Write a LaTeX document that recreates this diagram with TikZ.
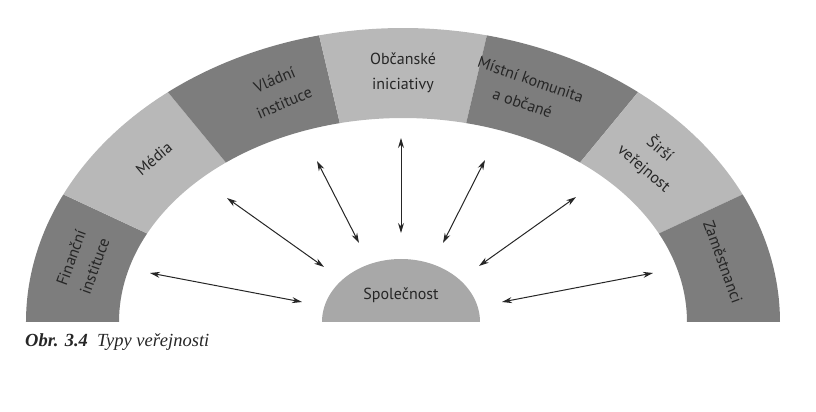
\documentclass[tikz,border=0pt]{standalone}
\usepackage{fontspec}
\setmainfont{Liberation Serif}
\newfontfamily\segfont{PT Sans}
\usetikzlibrary{arrows.meta}
\colorlet{segdark}{black!51}
\colorlet{seglight}{black!28}
\colorlet{spolfill}{black!34}
\colorlet{inktext}{black!85}

\tikzset{
  darkseg/.style={fill=segdark},
  lightseg/.style={fill=seglight},
  seglabel/.style={align=center, text=inktext, inner sep=1pt, font=\segfont\fontsize{16}{25}\selectfont},
  link/.style={<->, draw=inktext, line width=1pt}
}

\begin{document}
\begin{tikzpicture}[x=1pt, y=1pt, >={Stealth[length=10pt,width=6pt]}]
    \useasboundingbox (-403,-90) rectangle (413,322);

    % the seven segments of the arch
    \foreach \i/\sty/\t/\rot/\lab in {
        0/darkseg/166/70/{Finanční\\instituce},
        1/lightseg/139/40/{Média},
        2/darkseg/112/23/{Vládní\\instituce},
        3/lightseg/90/0/{Občanské\\iniciativy},
        4/darkseg/68/-19/{Místní komunita\\a občané},
        5/lightseg/41/-40/{Širší\\veřejnost},
        6/darkseg/14/-70/{Zaměstnanci}}
    {
      \pgfmathsetmacro\a{180-\i*180/7}
      \pgfmathsetmacro\b{\a-180/7}
      \fill[\sty] (\a:377 and 294) arc[start angle=\a, end angle=\b, x radius=377, y radius=294]
        -- (\b:284 and 204) arc[start angle=\b, end angle=\a, x radius=284, y radius=204] -- cycle;
      \node[seglabel, rotate=\rot] (seg\i) at (\t:330 and 249) {\lab};
    }

    \fill[spolfill] (-81,0) arc[start angle=180, end angle=0, x radius=79, y radius=63] -- cycle;
    \node[seglabel] (spol) at (-2,27) {Společnost};

    \foreach \n/\p/\q in {1/{-253,49}/{-101,20}, 2/{-176,124}/{-79,55}, 3/{-86,161}/{-44,79},
        4/{-2,184}/{-2,89}, 5/{82,162}/{40,79}, 6/{173,125}/{76,56}, 7/{250,49}/{99,20}}
    {
      \coordinate (out\n) at (\p);
      \coordinate (in\n) at (\q);
      \draw[link] (out\n) -- (in\n);
    }

    \node[anchor=base west, inner sep=0pt, text=inktext] (caption) at (-378,-24)
      {\fontsize{18.5}{20}\selectfont\itshape\textbf{Obr. 3.4}\hspace{0.5em}Typy veřejnosti};
\end{tikzpicture}
\end{document}
